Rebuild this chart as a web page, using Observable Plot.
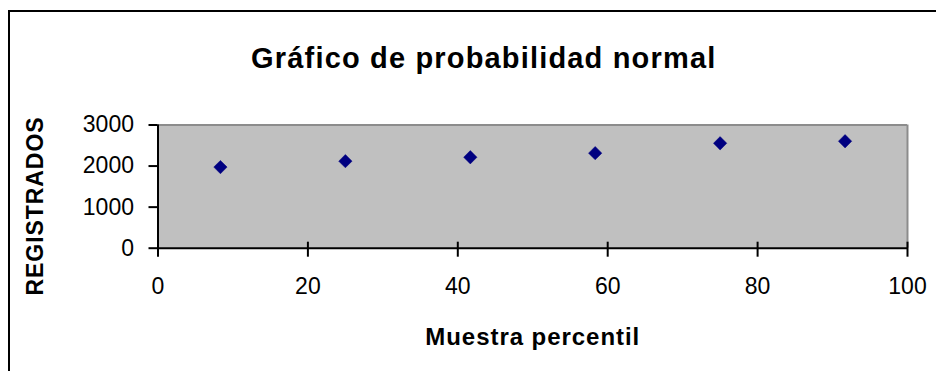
<!DOCTYPE html>
<html><head><meta charset="utf-8">
<script src="https://cdn.jsdelivr.net/npm/d3@7"></script>
<script src="https://cdn.jsdelivr.net/npm/@observablehq/plot@0.6"></script>
<style>
body{margin:0;background:#fff;}
#wrap{position:relative;width:936px;height:371px;overflow:hidden;background:#fff;}
#border{position:absolute;left:7.5px;top:9.5px;width:1000px;height:500px;border-left:2px solid #000;border-top:2px solid #000;}
#wrap svg{position:absolute;left:0;top:0;}
</style></head><body><div id="wrap"><div id="border"></div></div>
<script>
const title = "Gráfico de probabilidad normal";
const xLabel = "Muestra percentil";
const yLabel = "REGISTRADOS";
const percentiles = [8.33, 25, 41.67, 58.33, 75, 91.67];
const registrados = [1975, 2120, 2215, 2315, 2555, 2605];
const xTicks = [0, 20, 40, 60, 80, 100];
const yTicks = [0, 1000, 2000, 3000];

const points = percentiles.map((p, i) => ({p, v: registrados[i]}));
const font = "'Liberation Sans', Arial, sans-serif";

const chart = Plot.plot({
  width: 936, height: 371,
  marginLeft: 157.5, marginRight: 29, marginTop: 124.5, marginBottom: 123.3,
  style: {fontFamily: font, fontSize: "23px", color: "#000", background: "transparent"},
  x: {domain: [0, 100]},
  y: {domain: [0, 3000]},
  marks: [
    Plot.frame({fill: "#c0c0c0", stroke: null}),
    Plot.ruleY([3000], {stroke: "#8c8c8c", strokeWidth: 2}),
    Plot.ruleX([100], {stroke: "#8c8c8c", strokeWidth: 2}),
    Plot.ruleY([0], {stroke: "#000", strokeWidth: 2}),
    Plot.ruleX([0], {stroke: "#000", strokeWidth: 2}),
    Plot.axisY({ticks: yTicks, tickSize: 9, tickPadding: 15, strokeWidth: 2, label: null, tickFormat: d => String(d)}),
    Plot.axisX({ticks: xTicks, tickSize: 0, tickPadding: 29.6, label: null, tickFormat: d => String(d)}),
    Plot.ruleX(xTicks, {stroke: "#000", strokeWidth: 2, insetTop: 117.2, insetBottom: -9}),
    Plot.dot(points, {x: "p", y: "v", symbol: "diamond2", r: 6, fill: "#000080", stroke: "#000080", strokeWidth: 0.5}),
    Plot.text([xLabel], {text: d => d, frameAnchor: "bottom", textAnchor: "middle", dy: 97, fontSize: 24, fontWeight: "bold"}),
    Plot.text([yLabel], {text: d => d, frameAnchor: "left", textAnchor: "middle", rotate: -90, dx: -122.5, dy: 19.4, fontSize: 23, fontWeight: "bold"}),
    Plot.text([title], {text: d => d, frameAnchor: "top", textAnchor: "middle", dx: -49, dy: -77.5, fontSize: 29, fontWeight: "bold"})
  ]
});

chart.querySelectorAll("text").forEach(t => {
  if (t.textContent === title) t.style.letterSpacing = "1.17px";
  else if (t.textContent === xLabel) t.style.letterSpacing = "0.95px";
  else if (t.textContent === yLabel) t.style.letterSpacing = "0.94px";
});

document.getElementById("wrap").appendChild(chart);
</script>
</body></html>
